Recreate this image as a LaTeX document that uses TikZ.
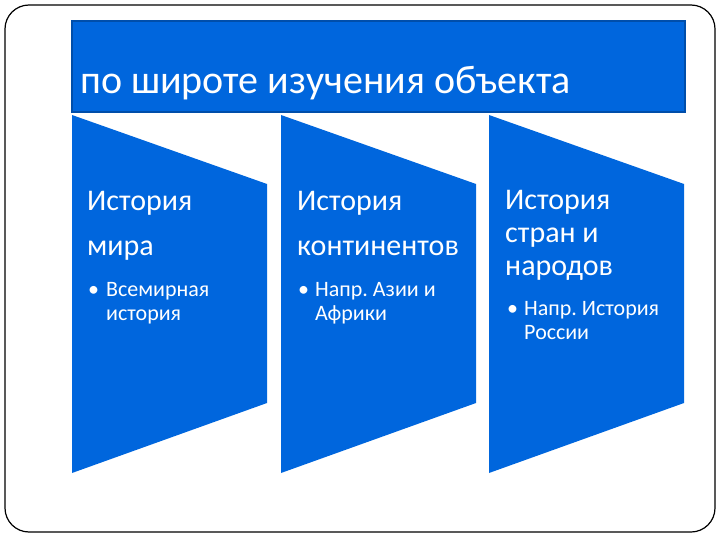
\documentclass[tikz,border=0pt]{standalone}
\usepackage{fontspec}
\setmainfont{Carlito}
\usetikzlibrary{positioning}
\frenchspacing

\definecolor{slideblue}{RGB}{0,102,221}
\definecolor{slideedge}{RGB}{0,78,170}

\begin{document}
\begin{tikzpicture}[
  x=1pt,y=-1pt,
  frame/.style={draw=black,line width=1.2pt,rounded corners=24pt},
  band/.style={fill=slideblue,draw=slideedge,line width=1.2pt},
  panel/.style={fill=slideblue},
  head/.style={anchor=base west,inner sep=0pt,text=white,font=\fontsize{40}{48}\selectfont},
  title/.style={anchor=base west,inner sep=0pt,text=white,font=\fontsize{30}{44}\selectfont},
  item/.style={anchor=base west,inner sep=0pt,text=white,font=\fontsize{22}{24}\selectfont}
]

% -------------------------
% Geometry
% -------------------------
\def\wPanel{195}
\def\yTop{115}
\def\yTopR{184}
\def\yBotR{403}
\def\yBot{473}

\useasboundingbox (0,0) rectangle (720,540);

% -------------------------
% Frame and header band
% -------------------------
\draw[frame] (5,5) rectangle (715,532);
\draw[band] (72,21) rectangle (685,112);
\node[head] (head) at (80,94) {по широте изучения объекта};

% -------------------------
% Panels
% -------------------------
\foreach \lx in {72,281,489} {
  \fill[panel] (\lx,\yTop) -- (\lx+\wPanel,\yTopR) -- (\lx+\wPanel,\yBotR) -- (\lx,\yBot) -- cycle;
}

% Panel 1
\node[title] (t1a) at (87,211) {История};
\node[title] (t1b) at (87,255) {мира};
\node[item]  (d1)  at (88,296) {•};
\node[item]  (b1a) at (106,296) {Всемирная};
\node[item]  (b1b) at (106,320) {история};

% Panel 2
\node[title] (t2a) at (297,211) {История};
\node[title] (t2b) at (297,255) {континентов};
\node[item]  (d2)  at (298,296) {•};
\node[item]  (b2a) at (315,296) {Напр. Азии и};
\node[item]  (b2b) at (315,320) {Африки};

% Panel 3
\node[title] (t3a) at (505,210) {История};
\node[title] (t3b) at (505,243) {стран и};
\node[title] (t3c) at (505,275) {народов};
\node[item]  (d3)  at (507,315) {•};
\node[item]  (b3a) at (524,315) {Напр. История};
\node[item]  (b3b) at (524,339) {России};

\end{tikzpicture}
\end{document}
